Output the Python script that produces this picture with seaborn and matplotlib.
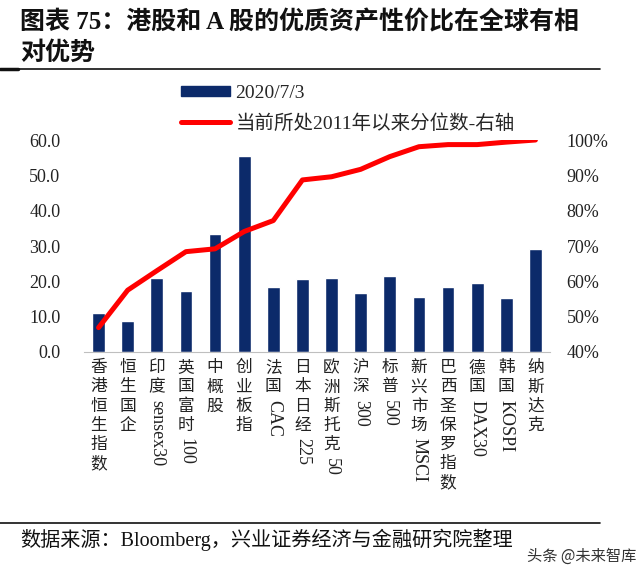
import numpy as np
import pandas as pd
import seaborn as sns
import matplotlib.pyplot as plt
from matplotlib.lines import Line2D
from matplotlib.patches import Patch
from matplotlib.textpath import TextPath
from matplotlib.font_manager import FontProperties
from matplotlib.ticker import PercentFormatter, FixedLocator

# ---- data ----
categories = ["香港恒生指数", "恒生国企", "印度sensex30", "英国富时100", "中概股", "创业板指",
              "法国CAC", "日本日经225", "欧洲斯托克50", "沪深300", "标普500", "新兴市场MSCI",
              "巴西圣保罗指数", "德国DAX30", "韩国KOSPI", "纳斯达克"]
pe_values = [11.0, 8.8, 21.0, 17.3, 33.5, 55.6, 18.3, 20.6, 20.9, 16.6, 21.6, 15.5,
             18.3, 19.5, 15.2, 29.1]
pct_rank = [0.469, 0.575, 0.630, 0.684, 0.692, 0.741, 0.772, 0.887, 0.896, 0.917,
            0.953, 0.981, 0.987, 0.987, 0.994, 1.0]
left_ticks = [0, 10, 20, 30, 40, 50, 60]
right_ticks = [0.4, 0.5, 0.6, 0.7, 0.8, 0.9, 1.0]
bar_label = "2020/7/3"
line_label = "当前所处2011年以来分位数-右轴"
title = "图表 75：港股和 A 股的优质资产性价比在全球有相\n对优势"
source = "数据来源：Bloomberg，兴业证券经济与金融研究院整理"

navy = "#0C2A6A"
red = "#FF0000"

sns.set_style("white")
plt.rcParams["font.family"] = ["Liberation Serif", "Noto Sans CJK SC"]
plt.rcParams["axes.unicode_minus"] = False

df = pd.DataFrame({"name": categories, "pe": pe_values, "pct": pct_rank,
                   "pos": np.arange(len(categories))})

fig = plt.figure(figsize=(6.4, 5.7), dpi=100)
ax = fig.add_axes([84 / 640, 1 - 352 / 570, 466 / 640, 212 / 570])

sns.barplot(data=df, x="name", y="pe", color=navy, width=0.44, saturation=1,
            ax=ax, zorder=2)
ax.set_xlim(-0.5, len(categories) - 0.5)
ax.set_ylim(0, 60)
ax.set_yticks(left_ticks)
ax.set_yticklabels([f"{v:.1f}" for v in left_ticks])
ax.set_xlabel("")
ax.set_ylabel("")
ax.set_xticks([])
ax.xaxis.set_minor_locator(FixedLocator(np.arange(-0.5, len(categories), 1.0)))
ax.tick_params(axis="x", which="minor", length=4, color="#BFBFBF", width=0.8)
ax.tick_params(axis="y", length=0, pad=17, labelsize=13, labelcolor="#222222")
for s in ["top", "right", "left"]:
    ax.spines[s].set_visible(False)
ax.spines["bottom"].set_color("#BFBFBF")
ax.spines["bottom"].set_linewidth(0.8)

ax2 = ax.twinx()
sns.lineplot(data=df, x="pos", y="pct", color=red, linewidth=3.6, ax=ax2, zorder=3)
ax2.set_ylim(0.4, 1.0)
ax2.set_yticks(right_ticks)
ax2.yaxis.set_major_formatter(PercentFormatter(1.0, decimals=0))
ax2.tick_params(axis="y", length=0, pad=12, labelsize=13, labelcolor="#222222")
ax2.set_ylabel("")
ax2.set_xlabel("")
for s in ["top", "right", "left", "bottom"]:
    ax2.spines[s].set_visible(False)
ax2.set_xlim(-0.5, len(categories) - 0.5)

# ---- vertical (stacked) category labels ----
fs = 13
fp_latin = FontProperties(family="Liberation Serif", size=fs)
pitch = 13.8
for i, name in enumerate(categories):
    runs = []
    for ch in name:
        latin = ord(ch) < 128
        if runs and latin and runs[-1][1]:
            runs[-1][0] += ch
        else:
            runs.append([ch, latin])
    off = 6
    for text, latin in runs:
        if latin:
            w = TextPath((0, 0), text, size=fs, prop=fp_latin).get_extents().width
            ax.annotate(text, xy=(i, 0), xycoords=("data", "axes fraction"),
                        xytext=(0, -off - 1), textcoords="offset points",
                        rotation=-90, ha="center", va="top", fontsize=fs,
                        color="#222222", annotation_clip=False)
            off += w + 3
        else:
            ax.annotate(text, xy=(i, 0), xycoords=("data", "axes fraction"),
                        xytext=(0, -off), textcoords="offset points",
                        ha="center", va="top", fontsize=fs - 1,
                        color="#222222", annotation_clip=False)
            off += pitch

# ---- legend ----
handles = [Patch(facecolor=navy, edgecolor=navy),
           Line2D([], [], color=red, linewidth=3.6)]
fig.legend(handles, [bar_label, line_label], loc="upper left",
           bbox_to_anchor=(181 / 640, 1 - 85 / 570), frameon=False,
           fontsize=14, handlelength=2.5, handleheight=0.45,
           handletextpad=0.3, labelspacing=0.6, borderpad=0, borderaxespad=0)

# ---- title, rules, source ----
fig.text(20 / 640, 1 - 10 / 570, title, ha="left", va="top", fontsize=18,
         fontweight="bold", linespacing=1.38, color="#111111")
fig.add_artist(Line2D([0, 600 / 640], [1 - 68.5 / 570] * 2, color="#111111",
                      lw=1.2, zorder=5))
fig.add_artist(Line2D([0, 18 / 640], [1 - 68.5 / 570] * 2, color="#111111",
                      lw=2.5, zorder=6))
fig.add_artist(Line2D([0, 600 / 640], [1 - 522.5 / 570] * 2, color="#111111",
                      lw=1.2, zorder=5))
fig.text(20 / 640, 1 - 540 / 570, source, ha="left", va="center", fontsize=14.5,
         color="#111111")
fig.text(636 / 640, 1 - 556 / 570, "头条 @未来智库", ha="right", va="center",
         fontsize=11, color="#333333", family=["Noto Sans CJK SC", "DejaVu Sans"])

fig.savefig("out.png", dpi=100)
